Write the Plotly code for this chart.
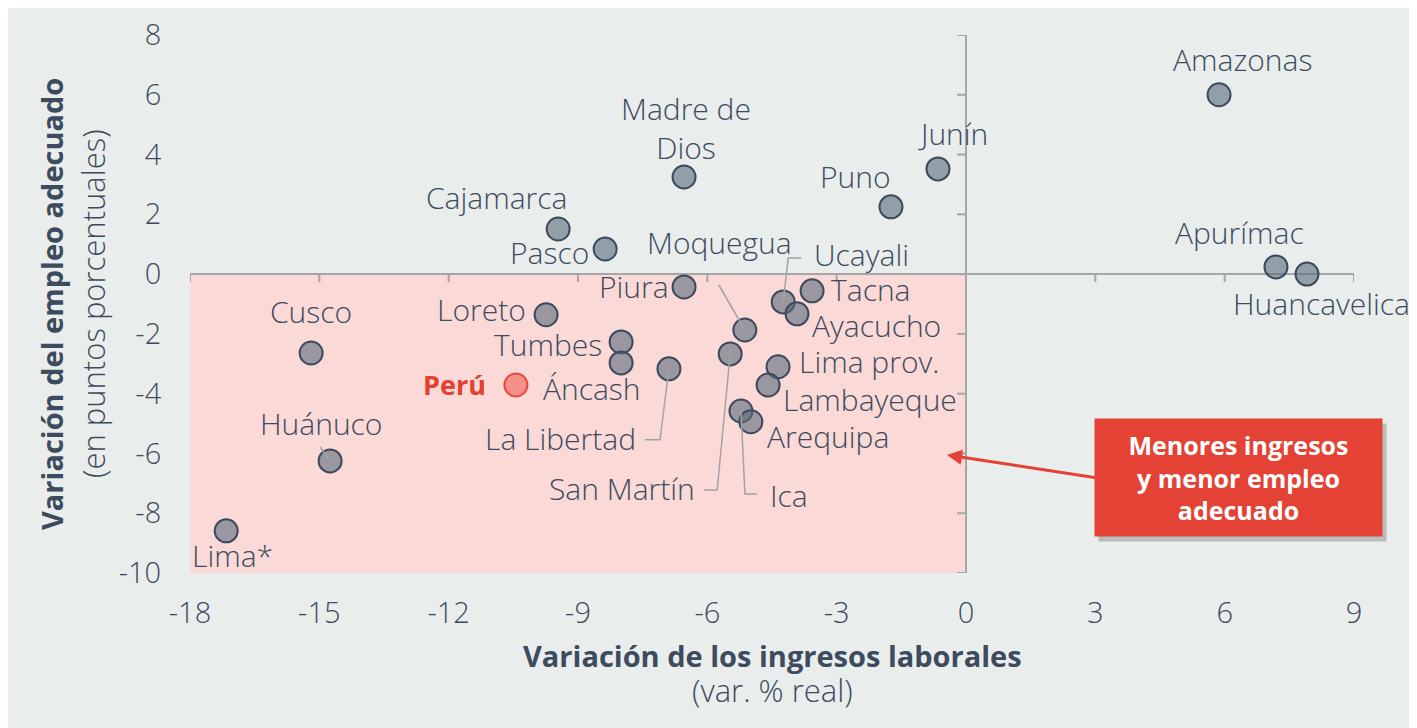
import plotly.graph_objects as go

# ---------------- data ----------------
regions = ["Amazonas", "Junín", "Puno", "Madre de Dios", "Cajamarca", "Pasco",
           "Apurímac", "Huancavelica", "Piura", "Tacna", "Ucayali", "Ayacucho",
           "Moquegua", "Loreto", "Tumbes", "Áncash", "Cusco", "La Libertad",
           "San Martín", "Lima prov.", "Lambayeque", "Ica", "Arequipa",
           "Huánuco", "Lima*"]
ingresos = [5.87, -0.65, -1.74, -6.54, -9.46, -8.37, 7.19, 7.91, -6.54, -3.57,
            -4.24, -3.92, -5.13, -9.74, -8.00, -8.00, -15.19, -6.89, -5.47,
            -4.36, -4.59, -5.22, -4.99, -14.75, -17.16]
empleo = [6.00, 3.52, 2.25, 3.25, 1.51, 0.84, 0.24, 0.00, -0.43, -0.56, -0.93,
          -1.33, -1.87, -1.36, -2.27, -2.97, -2.64, -3.17, -2.67, -3.10, -3.71,
          -4.58, -4.94, -6.25, -8.59]
peru_label = ["Perú"]
peru_ingresos = [-10.44]
peru_empleo = [-3.71]

x_ticks = [-18, -15, -12, -9, -6, -3, 0, 3, 6, 9]
y_ticks = [-10, -8, -6, -4, -2, 0, 2, 4, 6, 8]
x_range = [-18, 9]
y_range = [-10, 8]

# ---------------- styles ----------------
TXT = "#3d4b5e"
AXC = "#a6a6a6"
BG = "#e9edec"
PINK = "#fad9d7"
RED = "#e34234"
FONT = "Open Sans"

# the page places the figure 8px from the window's top-left corner
OFF = 8
PL, PT, PR, PB = 190, 35, 1354, 573          # plot area in window pixels
W, H = 1417 - OFF, 728 - OFF
L, T = PL - OFF, PT - OFF
pw, ph = PR - PL, PB - PT
R, B = W - L - pw, H - T - ph
sx = (x_range[1] - x_range[0]) / pw  # data units per px
sy = (y_range[1] - y_range[0]) / ph


def paper_x(px):
    return (px - PL) / pw


def paper_y(py):
    return (PB - py) / ph


# label placement: (anchor, dx, dy) in pixels (dx to anchor edge, dy down)
label_pos = {
    "Amazonas": ("center", 23, -34), "Junín": ("center", 15, -34),
    "Puno": ("right", 2, -29), "Madre de Dios": ("center", 2, -48),
    "Cajamarca": ("right", 11, -30), "Pasco": ("right", -14, 4),
    "Apurímac": ("center", -36, -33), "Huancavelica": ("center", 14, 30),
    "Piura": ("right", -13, 1), "Tacna": ("left", 17, 0),
    "Ucayali": ("left", 29, -46), "Ayacucho": ("left", 13, 13),
    "Moquegua": ("center", -25, -87), "Loreto": ("right", -18, -4),
    "Tumbes": ("right", -17, 4), "Áncash": ("center", -29, 27),
    "Cusco": ("center", 0, -41), "La Libertad": ("right", -31, 71),
    "San Martín": ("right", -33, 136), "Lima prov.": ("left", 19, -4),
    "Lambayeque": ("left", 13, 15), "Ica": ("left", 27, 85),
    "Arequipa": ("left", 14, 16), "Huánuco": ("center", -9, -36),
    "Lima*": ("center", 6, 26),
}
LABEL_DY = -1   # small correction for the text box's vertical centring
display = {"Madre de Dios": "Madre de<br>Dios"}
leaders = {
    "Moquegua": [(0, 0), (-26, -45)],
    "Ucayali": [(0, 0), (5, -44), (18, -44)],
    "La Libertad": [(0, 0), (-9, 71), (-24, 71)],
    "San Martín": [(0, 0), (-13, 136), (-26, 136)],
    "Ica": [(0, 0), (4, 83), (16, 83)],
    "Huánuco": [(-1, -1), (-10, -14)],
}

fig = go.Figure()

fig.add_trace(go.Scatter(
    x=ingresos, y=empleo, mode="markers", hoverinfo="text", text=regions,
    marker=dict(size=23, color="rgba(90,106,123,0.6)",
                line=dict(color="#3b4a5c", width=2)),
))
fig.add_trace(go.Scatter(
    x=peru_ingresos, y=peru_empleo, mode="markers", hoverinfo="text", text=peru_label,
    marker=dict(size=23, color="rgba(240,95,85,0.6)",
                line=dict(color="#e8493b", width=2)),
))

# leader lines
lx, ly = [], []
for name, pts in leaders.items():
    i = regions.index(name)
    for dx, dy in pts:
        lx.append(ingresos[i] + dx * sx)
        ly.append(empleo[i] - dy * sy)
    lx.append(None)
    ly.append(None)
fig.add_trace(go.Scatter(x=lx, y=ly, mode="lines", hoverinfo="skip",
                         line=dict(color="#a3a3a3", width=1.5)))

annotations = []
for name, xv, yv in zip(regions, ingresos, empleo):
    anc, dx, dy = label_pos[name]
    annotations.append(dict(
        x=xv, y=yv, xref="x", yref="y", showarrow=False,
        xanchor=anc, yanchor="middle",
        xshift=dx, yshift=-(dy + LABEL_DY), text=display.get(name, name),
        font=dict(family=FONT, size=30, color=TXT, weight=300),
    ))
annotations.append(dict(
    x=peru_ingresos[0], y=peru_empleo[0], xref="x", yref="y", showarrow=False,
    xanchor="right", yanchor="middle",
    xshift=-28, yshift=1, text="<b>" + peru_label[0] + "</b>",
    font=dict(family=FONT, size=27, color="#e4402f"),
))

# axis titles
cx = (PL + PR) / 2
cy = (PT + PB) / 2
annotations += [
    dict(x=paper_x(cx), y=paper_y(655), xref="paper", yref="paper",
         xanchor="center", yanchor="middle",
         showarrow=False, text="<b>Variación de los ingresos laborales</b>",
         font=dict(family=FONT, size=29, color=TXT)),
    dict(x=paper_x(cx), y=paper_y(690), xref="paper", yref="paper",
         xanchor="center", yanchor="middle",
         showarrow=False, text="(var. % real)",
         font=dict(family=FONT, size=31, color=TXT, weight=300)),
    dict(x=paper_x(51), y=paper_y(cy), xref="paper", yref="paper", textangle=-90,
         xanchor="center", yanchor="middle",
         showarrow=False, text="<b>Variación del empleo adecuado</b>",
         font=dict(family=FONT, size=29, color=TXT)),
    dict(x=paper_x(93), y=paper_y(cy), xref="paper", yref="paper", textangle=-90,
         xanchor="center", yanchor="middle",
         showarrow=False, text="(en puntos porcentuales)",
         font=dict(family=FONT, size=31, color=TXT, weight=300)),
]

# callout arrow + box
bx, by, bw, bh = 1238, 477, 285, 115
annotations += [
    dict(x=(947 - PL) * sx + x_range[0], y=y_range[1] - (455 - PT) * sy,
         ax=(bx - bw / 2 + 2 - PL) * sx + x_range[0], ay=y_range[1] - (478 - PT) * sy,
         xref="x", yref="y", axref="x", ayref="y", text="", showarrow=True,
         arrowhead=2, arrowsize=1, arrowwidth=3, arrowcolor=RED),
    dict(x=paper_x(bx), y=paper_y(by), xref="paper", yref="paper",
         xanchor="center", yanchor="middle",
         xshift=4, yshift=-5, showarrow=False, text=" ", width=bw, height=bh,
         bgcolor="rgba(60,60,60,0.28)"),
    dict(x=paper_x(bx), y=paper_y(by), xref="paper", yref="paper",
         xanchor="center", yanchor="middle",
         showarrow=False, width=bw, height=bh, bgcolor=RED,
         text="<b>Menores ingresos<br>y menor empleo<br>adecuado</b>",
         font=dict(family=FONT, size=25, color="white")),
]

shapes = [
    dict(type="rect", xref="x", yref="y", layer="below",
         x0=x_range[0], x1=0, y0=y_range[0], y1=0,
         fillcolor=PINK, line=dict(width=0)),
]
for v in x_ticks:
    shapes.append(dict(type="line", xref="x", yref="y", x0=v, x1=v, y0=0, y1=-8 * sy,
                       line=dict(color=AXC, width=2)))
for v in y_ticks:
    shapes.append(dict(type="line", xref="x", yref="y", x0=0, x1=-9 * sx, y0=v, y1=v,
                       line=dict(color=AXC, width=2)))

fig.update_layout(
    template="none",
    width=W, height=H, margin=dict(l=L, r=R, t=T, b=B, pad=0, autoexpand=False),
    paper_bgcolor=BG, plot_bgcolor="rgba(0,0,0,0)", showlegend=False,
    font=dict(family=FONT, color=TXT),
    annotations=annotations, shapes=shapes,
    xaxis=dict(range=x_range, tickvals=x_ticks, ticktext=[str(v) for v in x_ticks],
               automargin=False,
               ticks="outside", ticklen=14, tickcolor="rgba(0,0,0,0)",
               showgrid=False, zeroline=True, zerolinecolor=AXC, zerolinewidth=2,
               showline=False, tickfont=dict(family=FONT, size=29, color=TXT, weight=300)),
    yaxis=dict(range=y_range, tickvals=y_ticks, ticktext=[str(v) for v in y_ticks],
               automargin=False,
               ticks="outside", ticklen=22, tickcolor="rgba(0,0,0,0)",
               showgrid=False, zeroline=True, zerolinecolor=AXC, zerolinewidth=2,
               showline=False, tickfont=dict(family=FONT, size=29, color=TXT, weight=300)),
)

fig.write_html("out.html")
